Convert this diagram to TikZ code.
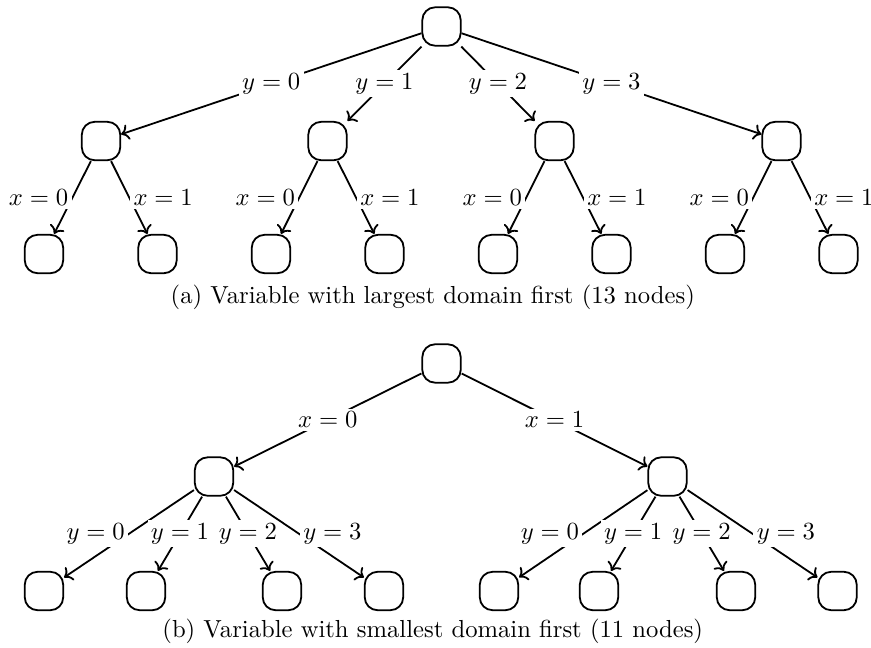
\documentclass[tikz,border=0pt,11pt]{standalone}
\usepackage{amsmath,amssymb}
\usepackage{tikz}
\usetikzlibrary{arrows.meta,positioning,calc}

\begin{document}
\begin{tikzpicture}[
    every node/.style={align=center},
    box/.style={draw,thick,rounded corners=2mm,minimum size=6mm,inner sep=0pt},
    edge/.style={->,thick},
    lbl/.style={fill=white,inner sep=1.5pt}]
  \useasboundingbox (0,0) rectangle (13.606,10.107);

  % (a) y first, then x
  \node[box] (ra) at (6.897,9.693) {};
  \node[box] (a0) at (1.578,7.904) {};
  \node[box] (a1) at (5.116,7.904) {};
  \node[box] (a2) at (8.662,7.904) {};
  \node[box] (a3) at (12.208,7.904) {};
  \node[box] (a00) at (0.687,6.139) {};
  \node[box] (a01) at (2.460,6.139) {};
  \node[box] (a10) at (4.233,6.139) {};
  \node[box] (a11) at (6.006,6.139) {};
  \node[box] (a20) at (7.779,6.139) {};
  \node[box] (a21) at (9.552,6.139) {};
  \node[box] (a30) at (11.325,6.139) {};
  \node[box] (a31) at (13.098,6.139) {};
  \draw[edge] (ra)--node[lbl]{$y=0$}(a0);
  \draw[edge] (ra)--node[lbl]{$y=1$}(a1);
  \draw[edge] (ra)--node[lbl]{$y=2$}(a2);
  \draw[edge] (ra)--node[lbl]{$y=3$}(a3);
  \foreach \i in {0,1,2,3}{
    \draw[edge] (a\i)--node[lbl,left]{$x=0$}(a\i0);
    \draw[edge] (a\i)--node[lbl,right]{$x=1$}(a\i1);
  }
  \node (capa) at (6.76,5.467) {(a) Variable with largest domain first (13 nodes)};

  % (b) x first, then y
  \node[box] (rb) at (6.897,4.429) {};
  \node[box] (b0) at (3.343,2.663) {};
  \node[box] (b1) at (10.427,2.663) {};
  \node[box] (b00) at (0.687,0.875) {};
  \node[box] (b01) at (2.281,0.875) {};
  \node[box] (b02) at (4.405,0.875) {};
  \node[box] (b03) at (5.998,0.875) {};
  \node[box] (b10) at (7.795,0.875) {};
  \node[box] (b11) at (9.357,0.875) {};
  \node[box] (b12) at (11.497,0.875) {};
  \node[box] (b13) at (13.083,0.875) {};
  \draw[edge] (rb)--node[lbl]{$x=0$}(b0);
  \draw[edge] (rb)--node[lbl]{$x=1$}(b1);
  \foreach \i in {0,1}{
    \draw[edge] (b\i)--node[lbl,left]{$y=0$}(b\i0);
    \draw[edge] (b\i)--node[lbl]{$y=1$}(b\i1);
    \draw[edge] (b\i)--node[lbl]{$y=2$}(b\i2);
    \draw[edge] (b\i)--node[lbl,right]{$y=3$}(b\i3);
  }
  \node (capb) at (6.76,0.250) {(b) Variable with smallest domain first (11 nodes)};
\end{tikzpicture}
\end{document}
